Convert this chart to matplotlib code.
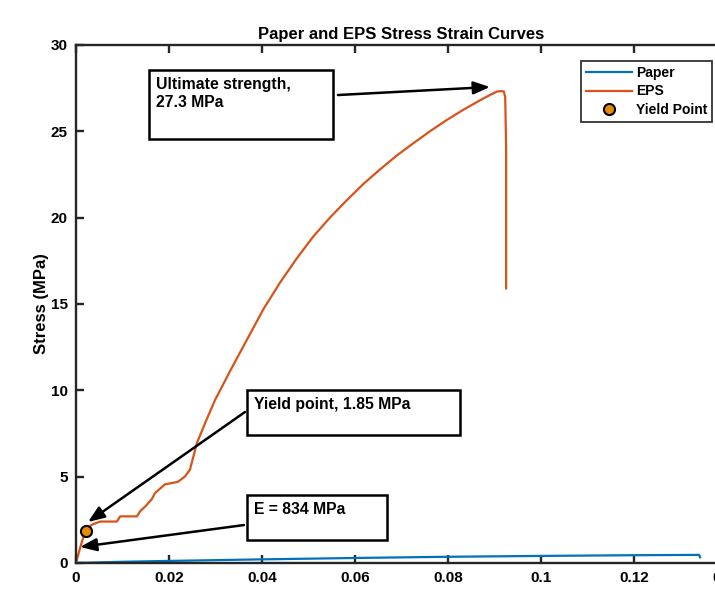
import numpy as np
import matplotlib.pyplot as plt
from matplotlib import rcParams
from matplotlib.patches import Rectangle

rcParams['font.family'] = ['Liberation Sans', 'DejaVu Sans']
rcParams['font.weight'] = 'bold'
rcParams['font.size'] = 11
rcParams['axes.linewidth'] = 1.7

# EPS stress-strain curve
eps_strain = [0, 0.0007, 0.0014, 0.00215, 0.0027, 0.0037, 0.0052, 0.0088, 0.0095,
              0.0131, 0.0138, 0.0150, 0.0163, 0.0170, 0.0191, 0.0219, 0.0234, 0.0245,
              0.0260, 0.0280, 0.0299, 0.0333, 0.0367, 0.0403, 0.0439, 0.0475, 0.0510,
              0.0546, 0.0582, 0.0618, 0.0654, 0.0690, 0.0725, 0.0761, 0.0797, 0.0833,
              0.0869, 0.0890, 0.0905, 0.0915, 0.0920, 0.0923, 0.0925, 0.0925]
eps_stress = [0, 0.7, 1.35, 1.85, 2.1, 2.25, 2.4, 2.4, 2.7,
              2.7, 3.0, 3.3, 3.7, 4.05, 4.55, 4.7, 5.0, 5.4,
              6.95, 8.25, 9.44, 11.2, 12.9, 14.7, 16.25, 17.65, 18.9,
              20.0, 21.0, 21.95, 22.8, 23.6, 24.3, 25.0, 25.65, 26.25,
              26.8, 27.1, 27.3, 27.33, 27.3, 27.0, 24.0, 15.9]

# Paper curve
paper_strain = [0, 0.01, 0.02, 0.04, 0.06, 0.08, 0.10, 0.12, 0.1340, 0.1342]
paper_stress = [0, 0.07, 0.12, 0.21, 0.29, 0.36, 0.41, 0.45, 0.47, 0.33]

yield_strain = 0.00215
yield_stress = 1.85

blue = '#0072BD'
orange = '#D95319'
dark = '#262626'

fig = plt.figure(figsize=(7.15, 5.95), dpi=100)
ax = fig.add_axes([0.1063, 0.0538, 0.9105, 0.8706])

ax.plot(paper_strain, paper_stress, color=blue, lw=1.6, label='Paper')
ax.plot(eps_strain, eps_stress, color=orange, lw=1.6, label='EPS')
ax.plot(yield_strain, yield_stress, 'o', ms=8, mfc='#E68A00', mec='black', mew=1.5,
        label='Yield Point', linestyle='none')

ax.set_xlim(0, 0.14)
ax.set_ylim(0, 30)
ax.set_xticks(np.arange(0, 0.141, 0.02))
ax.set_xticklabels(['0', '0.02', '0.04', '0.06', '0.08', '0.1', '0.12', '0.14'])
ax.set_yticks(np.arange(0, 31, 5))
ax.tick_params(direction='in', length=6, width=1.7, color=dark, top=True, right=True,
               labelsize=11, pad=6)
for s in ax.spines.values():
    s.set_color(dark)

ax.set_title('Paper and EPS Stress Strain Curves', fontsize=12, fontweight='bold', pad=4)
ax.set_ylabel('Stress (MPa)', fontsize=12, fontweight='bold', labelpad=1)

leg = fig.legend(loc='upper left', bbox_to_anchor=(0.813, 0.898), fontsize=10,
                 frameon=True, fancybox=False, edgecolor='black', handlelength=3.3,
                 borderpad=0.35, labelspacing=0.35, handletextpad=0.3, borderaxespad=0)
leg.get_frame().set_linewidth(1.3)

# annotation boxes (figure fraction)
boxes = [
    ((0.2084, 0.7664), 0.2573, 0.1160, 'Ultimate strength,\n27.3 MPa'),
    ((0.3455, 0.2689), 0.2979, 0.0756, 'Yield point, 1.85 MPa'),
    ((0.3455, 0.0924), 0.1958, 0.0756, 'E = 834 MPa'),
]
for (x0, y0), w, h, txt in boxes:
    fig.patches.append(Rectangle((x0, y0), w, h, transform=fig.transFigure,
                                 fill=True, facecolor='white', edgecolor='black', lw=1.8))
    fig.text(x0 + 0.010, y0 + h - 0.011, txt, ha='left', va='top', fontsize=11.3,
             fontweight='bold', linespacing=1.25)

arrows = [
    ((0.4727, 0.8403), (0.6853, 0.8538)),
    ((0.3427, 0.3076), (0.1231, 0.1227)),
    ((0.3413, 0.1176), (0.1119, 0.0807)),
]
for start, end in arrows:
    fig.add_artist(plt.Annotation('', xy=end, xytext=start, xycoords='figure fraction',
                                  textcoords='figure fraction',
                                  arrowprops=dict(arrowstyle='-|>,head_length=0.9,head_width=0.35',
                                                  color='black', lw=1.8, shrinkA=0, shrinkB=0)))

fig.savefig('out.png', dpi=100)
